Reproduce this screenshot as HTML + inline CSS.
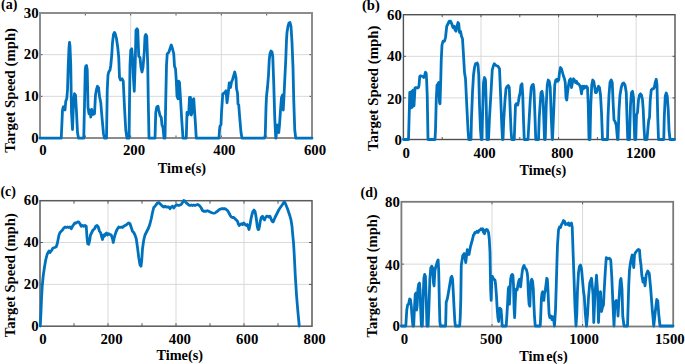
<!DOCTYPE html>
<html><head><meta charset="utf-8"><style>
html,body{margin:0;padding:0;background:#fff;}
body{width:685px;height:364px;overflow:hidden;}
svg{display:block;}
text{font-family:"Liberation Serif",serif;font-weight:bold;fill:#000;}
</style></head><body>
<svg width="685" height="364" viewBox="0 0 685 364">

<line x1="130.67" y1="13" x2="130.67" y2="138" stroke="#d9d9d9" stroke-width="1"/>
<line x1="221.33" y1="13" x2="221.33" y2="138" stroke="#d9d9d9" stroke-width="1"/>
<line x1="40" y1="96.33" x2="312" y2="96.33" stroke="#d9d9d9" stroke-width="1"/>
<line x1="40" y1="54.67" x2="312" y2="54.67" stroke="#d9d9d9" stroke-width="1"/>
<line x1="85.33" y1="138" x2="85.33" y2="135.5" stroke="#555" stroke-width="1"/>
<line x1="85.33" y1="13" x2="85.33" y2="15.5" stroke="#555" stroke-width="1"/>
<line x1="130.67" y1="138" x2="130.67" y2="135.5" stroke="#555" stroke-width="1"/>
<line x1="130.67" y1="13" x2="130.67" y2="15.5" stroke="#555" stroke-width="1"/>
<line x1="176" y1="138" x2="176" y2="135.5" stroke="#555" stroke-width="1"/>
<line x1="176" y1="13" x2="176" y2="15.5" stroke="#555" stroke-width="1"/>
<line x1="221.33" y1="138" x2="221.33" y2="135.5" stroke="#555" stroke-width="1"/>
<line x1="221.33" y1="13" x2="221.33" y2="15.5" stroke="#555" stroke-width="1"/>
<line x1="266.67" y1="138" x2="266.67" y2="135.5" stroke="#555" stroke-width="1"/>
<line x1="266.67" y1="13" x2="266.67" y2="15.5" stroke="#555" stroke-width="1"/>
<line x1="40" y1="96.33" x2="42.5" y2="96.33" stroke="#555" stroke-width="1"/>
<line x1="312" y1="96.33" x2="309.5" y2="96.33" stroke="#555" stroke-width="1"/>
<line x1="40" y1="54.67" x2="42.5" y2="54.67" stroke="#555" stroke-width="1"/>
<line x1="312" y1="54.67" x2="309.5" y2="54.67" stroke="#555" stroke-width="1"/>
<rect x="40" y="13" width="272" height="125" fill="none" stroke="#8c8c8c" stroke-width="2"/>
<polyline points="40,138.2 43,138.2 44,138.2 45,138.2 46,138.2 52,138.2 53,138.2 54,138.2 61.25,138.2 62.5,110 63.25,107 64.25,106.5 65,110 65.75,101.25 66.75,98.75 67.5,90 68.25,65 69,47.5 69.5,42.5 70,46.25 70.75,65 71.5,112.5 72.5,129.5 73.5,102.5 74.5,93.75 75.5,95 76.5,112.5 77.5,132.5 78.5,138.2 83.75,138.2 84.5,105 85.25,70 85.75,66.25 86.5,65.5 87.25,70 88,107.5 89,113.75 90,110 90.75,117 91.75,109.5 93,114.5 94.5,113.75 95.5,95 96.5,89.5 97.5,86.25 98.5,87.5 99.5,96.25 100.75,102.5 102,117.5 103.5,133.75 104.5,138.2 106.5,138.2 107.25,90 108,75 108.75,72 110,70 110.75,65.5 111.75,55 112.5,42.5 113.5,34.5 114.5,32.5 115.5,34.5 116.5,38.75 117.75,47.5 118.75,57.5 119.5,77.5 120.5,80 122,78.75 123.25,81.25 124.5,107.5 125.75,130 127,138.2 129,138.2 130,65 130.75,50 131.75,48.75 132.5,57.5 133.25,75 134.25,91.25 135.25,62.5 136,30 137,28.75 137.75,30 138.75,56.25 140,57.5 141,67.5 142,72 143,67.5 144.25,52.5 145,36.25 145.75,34.5 146.75,36.25 147.75,65 148.25,100 149,138.2 149.5,138.2 155,138.2 155.75,112.5 156.75,107 158,106.25 158.75,110 160,115.5 161.25,117.5 162,125 163,127.5 164,138.2 165,138.2 165.75,100 166.5,65 167.25,53.75 168.75,52.5 170,48.75 171.25,45 172.5,48.75 173.75,53.75 174.5,66.25 175.5,68.75 176.25,80 177,96.25 178,98.75 178.75,81.25 179.5,82.5 180.5,98.75 181.75,120 183,138.2 183.75,138.2 186.25,138.2 187,112.5 188,115 188.75,112.5 189.5,97.5 190.5,97.5 191.25,115 192,112.5 193,100 193.75,98.75 194.5,110 195.5,125 196.25,138.2 201.25,138.2 202.5,138.2 203.75,138.2 219,138.2 219.5,130.25 220,126 221,124.75 221.5,112.75 222.75,94 224.25,93 226,90.75 227,102.75 228.25,93 229.25,83 230.5,87.5 231.5,82 232.5,79.75 233.75,75.5 234.75,72 236,77.5 236.5,88.5 237.5,93 238,104 238.75,105 239.5,115 241,132.5 242,138.2 264.5,138.2 265.25,135 266,107.5 266.5,96.25 267.5,87.25 268.5,75 269.25,59.75 270,53.75 271,51 272,52 272.75,56.25 273.75,83.75 274.75,118 275.75,138.2 276,138.2 276.75,127.5 277.5,125 278.75,132.5 279.5,125 280.5,110 281.5,97.5 282.5,95 283.25,110 284,96.25 284.75,80 285.75,60 286.5,40 287,32.5 288,26.25 289,23 290,22.5 291,26.25 292,42.5 293,67.5 293.75,100 294.75,130 295.75,138.2 312,138.2" fill="none" stroke="#0072BD" stroke-width="2.8" stroke-linejoin="round" stroke-linecap="round"/>
<text x="1" y="9.3" text-anchor="start" font-size="14">(a)</text>
<text transform="translate(38.6,18) scale(1.06,1)" text-anchor="end" font-size="14">30</text>
<text transform="translate(38.6,59.2) scale(1.06,1)" text-anchor="end" font-size="14">20</text>
<text transform="translate(38.6,100.5) scale(1.06,1)" text-anchor="end" font-size="14">10</text>
<text transform="translate(38.6,142.5) scale(1.06,1)" text-anchor="end" font-size="14">0</text>
<text transform="translate(43,155.4) scale(1.06,1)" text-anchor="middle" font-size="14">0</text>
<text transform="translate(134,155.4) scale(1.06,1)" text-anchor="middle" font-size="14">200</text>
<text transform="translate(224.4,155.4) scale(1.06,1)" text-anchor="middle" font-size="14">400</text>
<text transform="translate(315,155.4) scale(1.06,1)" text-anchor="middle" font-size="14">600</text>
<text x="181.9" y="172.7" text-anchor="middle" font-size="14.3">Tim<tspan dx="1.8">e(s)</tspan></text>
<text transform="translate(14.5,90.4) rotate(-90)" text-anchor="middle" font-size="14.75">Target Speed (mph)</text>
<line x1="481" y1="14.7" x2="481" y2="139.5" stroke="#d9d9d9" stroke-width="1"/>
<line x1="558.6" y1="14.7" x2="558.6" y2="139.5" stroke="#d9d9d9" stroke-width="1"/>
<line x1="636.2" y1="14.7" x2="636.2" y2="139.5" stroke="#d9d9d9" stroke-width="1"/>
<line x1="403.4" y1="97.9" x2="675" y2="97.9" stroke="#d9d9d9" stroke-width="1"/>
<line x1="403.4" y1="56.3" x2="675" y2="56.3" stroke="#d9d9d9" stroke-width="1"/>
<line x1="442.2" y1="139.5" x2="442.2" y2="137" stroke="#555" stroke-width="1"/>
<line x1="442.2" y1="14.7" x2="442.2" y2="17.2" stroke="#555" stroke-width="1"/>
<line x1="481" y1="139.5" x2="481" y2="137" stroke="#555" stroke-width="1"/>
<line x1="481" y1="14.7" x2="481" y2="17.2" stroke="#555" stroke-width="1"/>
<line x1="519.8" y1="139.5" x2="519.8" y2="137" stroke="#555" stroke-width="1"/>
<line x1="519.8" y1="14.7" x2="519.8" y2="17.2" stroke="#555" stroke-width="1"/>
<line x1="558.6" y1="139.5" x2="558.6" y2="137" stroke="#555" stroke-width="1"/>
<line x1="558.6" y1="14.7" x2="558.6" y2="17.2" stroke="#555" stroke-width="1"/>
<line x1="597.4" y1="139.5" x2="597.4" y2="137" stroke="#555" stroke-width="1"/>
<line x1="597.4" y1="14.7" x2="597.4" y2="17.2" stroke="#555" stroke-width="1"/>
<line x1="636.2" y1="139.5" x2="636.2" y2="137" stroke="#555" stroke-width="1"/>
<line x1="636.2" y1="14.7" x2="636.2" y2="17.2" stroke="#555" stroke-width="1"/>
<line x1="403.4" y1="97.9" x2="405.9" y2="97.9" stroke="#555" stroke-width="1"/>
<line x1="675" y1="97.9" x2="672.5" y2="97.9" stroke="#555" stroke-width="1"/>
<line x1="403.4" y1="56.3" x2="405.9" y2="56.3" stroke="#555" stroke-width="1"/>
<line x1="675" y1="56.3" x2="672.5" y2="56.3" stroke="#555" stroke-width="1"/>
<rect x="403.4" y="14.7" width="271.6" height="124.8" fill="none" stroke="#505050" stroke-width="1.4"/>
<polyline points="403.5,139.5 408.5,139.5 409.25,112.5 409.75,92.5 410.75,108 411.5,91.75 412.25,107.25 413,90.25 414,105.75 415,88 416,87.5 417.5,88 418.5,87.5 419,85.5 419.75,76.5 420.5,75.75 422.75,76.5 423.75,77.5 424.5,75.75 425.5,72.25 426.25,73.5 426.75,83.25 427.25,96.5 427.75,125 428,139.5 435,139.5 435.5,130 436.25,100 437,85 438,83.75 438.75,82.5 439.5,102.5 440,103.75 440.75,80 441.25,60 442,45 443,41.25 444.5,41.25 445.5,37.5 446.75,26.25 448,23.75 449.25,21.25 450.5,21.25 451.75,23.75 453,27.5 454.25,26.25 455,30 456,31.25 457,26.25 458,22.5 458.75,23.75 459.5,32.5 460.5,31.25 461.5,36.25 462.5,38.75 463.5,55 464.5,72.5 465.5,78.75 466.75,105 468,130 468.75,139.5 471,139.5 471.5,117.5 472.5,92.5 473.5,75 474.5,67.5 475.5,63.75 477.25,63 478,65 478.75,75 479.5,105 480.5,130 481.25,139.5 482,139.5 482.5,117.5 483.5,82.5 484.5,77.5 485.5,80 486.25,105 487,139.5 488.5,139.5 489.5,117.5 491,92.5 492.25,70 493.25,66.25 494.25,63.75 496,65.5 498,66.25 499.5,68.75 500.5,92.5 501.75,125 502.5,139.5 503,139.5 503.75,120 505,100 506,88.75 507.25,86.25 508.25,85.5 509.25,87.5 510,105 511,130 511.75,139.5 514.25,139.5 514.75,125 515.5,105 516.25,103.75 517,103.75 517.75,105 518.5,101.25 519.25,96.25 520,93.75 521,85 522,83.75 522.75,95 523.5,120 524.25,139.5 528,139.5 529.25,117.5 530.25,100 531.25,87.5 532.25,85 533.25,84.5 534,90 535,117.5 535.75,139.5 538.5,139.5 539.25,117.5 540,106.25 541,92.5 542,91.25 543,97.5 543.75,117.5 544.5,139.5 545.25,139.5 546.25,105 547.25,85 548.25,80 549.25,81.25 550.25,87.5 551.25,117.5 552.25,139.5 552.5,139.5 553.75,110 554.75,85 555.75,80 556.75,79.25 557.75,81.25 558.75,80 559.5,72.5 560.5,67.5 561.5,68.75 562.5,72.5 563.5,76.25 564.5,78.75 565.25,82.5 566,97.5 566.75,100 567.5,92.5 568.5,85 569.5,80 570.5,78.75 571.5,87.5 572.5,82.5 573.5,78.75 574.5,80 575.5,82.5 576.5,81.25 577.5,83.75 578.5,83.75 579.5,85 580.5,87.5 581.5,93.75 582.5,86.25 583.5,88.75 584.5,86.25 585.5,87.5 586.5,86.25 587.5,87.5 588.25,105 589,139.5 590,139.5 590.75,105 591.75,85 592.75,80 593.75,81.25 594.75,87.5 595.5,92.5 596.5,92.5 597.5,88.75 598.5,86.25 599.5,87.5 600.5,95 601.5,112.5 602.5,139.5 607.5,139.5 608,117.5 609,95 610,82.5 611.25,80 612.25,82.5 613,100 614,120 615,121.25 616.25,125 617.5,139.5 618,139.5 619,110 620,95 621.25,87.5 622.5,83.75 623.75,83 625,85 626.25,92.5 627,117.5 627.75,139.5 629.5,139.5 630.5,105 631.5,92.5 632.5,91.25 633.5,97.5 634,117.5 634.75,139.5 635.75,139.5 636.5,115 637.5,112.5 638.5,100 639.5,95 640.5,93.75 641.5,95 642.5,100 643.25,110 644,127.5 644.75,139.5 645.75,139.5 647,139.5 648,127.5 648.75,120 649.5,117.5 650.25,100 651.25,90 652.5,88.75 653.5,88.75 654.25,87.5 655.25,82.5 656.25,79.25 657,85 657.75,117.5 658.5,139.5 663.75,139.5 664.25,117.5 665.25,96.25 666.25,93 667.25,96.25 668.25,110 669,130 670,139.5 674.5,139.5" fill="none" stroke="#0072BD" stroke-width="2.8" stroke-linejoin="round" stroke-linecap="round"/>
<text x="362" y="9.6" text-anchor="start" font-size="14.6">(b)</text>
<text transform="translate(401.9,19.9) scale(1.06,1)" text-anchor="end" font-size="14">60</text>
<text transform="translate(401.9,60.8) scale(1.06,1)" text-anchor="end" font-size="14">40</text>
<text transform="translate(401.9,103.6) scale(1.06,1)" text-anchor="end" font-size="14">20</text>
<text transform="translate(401.9,144.6) scale(1.06,1)" text-anchor="end" font-size="14">0</text>
<text transform="translate(406.1,157.5) scale(1.06,1)" text-anchor="middle" font-size="14">0</text>
<text transform="translate(484.6,157.5) scale(1.06,1)" text-anchor="middle" font-size="14">400</text>
<text transform="translate(562.3,157.5) scale(1.06,1)" text-anchor="middle" font-size="14">800</text>
<text transform="translate(640.8,157.5) scale(1.06,1)" text-anchor="middle" font-size="14">1200</text>
<text x="542.9" y="175.2" text-anchor="middle" font-size="14.3">Time(s)</text>
<text transform="translate(377.8,88.25) rotate(-90)" text-anchor="middle" font-size="14.85">Target Speed (mph)</text>
<line x1="108" y1="200.7" x2="108" y2="326.2" stroke="#d9d9d9" stroke-width="1"/>
<line x1="176" y1="200.7" x2="176" y2="326.2" stroke="#d9d9d9" stroke-width="1"/>
<line x1="244" y1="200.7" x2="244" y2="326.2" stroke="#d9d9d9" stroke-width="1"/>
<line x1="40" y1="284.37" x2="312" y2="284.37" stroke="#d9d9d9" stroke-width="1"/>
<line x1="40" y1="242.53" x2="312" y2="242.53" stroke="#d9d9d9" stroke-width="1"/>
<line x1="74" y1="326.2" x2="74" y2="323.2" stroke="#555" stroke-width="1"/>
<line x1="74" y1="200.7" x2="74" y2="203.7" stroke="#555" stroke-width="1"/>
<line x1="108" y1="326.2" x2="108" y2="323.2" stroke="#555" stroke-width="1"/>
<line x1="108" y1="200.7" x2="108" y2="203.7" stroke="#555" stroke-width="1"/>
<line x1="142" y1="326.2" x2="142" y2="323.2" stroke="#555" stroke-width="1"/>
<line x1="142" y1="200.7" x2="142" y2="203.7" stroke="#555" stroke-width="1"/>
<line x1="176" y1="326.2" x2="176" y2="323.2" stroke="#555" stroke-width="1"/>
<line x1="176" y1="200.7" x2="176" y2="203.7" stroke="#555" stroke-width="1"/>
<line x1="210" y1="326.2" x2="210" y2="323.2" stroke="#555" stroke-width="1"/>
<line x1="210" y1="200.7" x2="210" y2="203.7" stroke="#555" stroke-width="1"/>
<line x1="244" y1="326.2" x2="244" y2="323.2" stroke="#555" stroke-width="1"/>
<line x1="244" y1="200.7" x2="244" y2="203.7" stroke="#555" stroke-width="1"/>
<line x1="278" y1="326.2" x2="278" y2="323.2" stroke="#555" stroke-width="1"/>
<line x1="278" y1="200.7" x2="278" y2="203.7" stroke="#555" stroke-width="1"/>
<line x1="40" y1="284.37" x2="43" y2="284.37" stroke="#555" stroke-width="1"/>
<line x1="312" y1="284.37" x2="309" y2="284.37" stroke="#555" stroke-width="1"/>
<line x1="40" y1="242.53" x2="43" y2="242.53" stroke="#555" stroke-width="1"/>
<line x1="312" y1="242.53" x2="309" y2="242.53" stroke="#555" stroke-width="1"/>
<rect x="40" y="200.7" width="272" height="125.5" fill="none" stroke="#5a5a5a" stroke-width="1.5"/>
<polyline points="40.25,326 41,311.75 41.5,298.75 42.25,285.75 43.25,275.5 44.5,267 45.75,259.75 47.25,254 49,251 50,252.5 51.5,250.5 53,248 54.75,247.5 56.25,246.75 57.25,243.75 58,240 59,235 60,232.5 61.25,231.25 62.5,230 63.75,228 65,227 66.25,227.5 67.5,227 68.75,227.5 70,227 71.25,228.75 72.5,226.25 73.75,224.5 75,223 76.25,223 77.5,222 78.75,222 80,223.75 81.25,226.25 82.5,225.5 83.75,226.25 85,225.5 86.25,226.25 87,237.5 87.75,243.75 88.75,244.25 89.5,241.25 90.5,235 91.75,232.5 93,230 94.5,228.75 95.75,226.25 97,225.5 98.25,227 99.5,231.25 100.5,232.5 101.5,236.25 102.5,239.5 103.5,235 104.5,236.25 105.5,233.75 106.5,233 107.5,235 108.75,233.75 110,234.5 111.25,235 112.5,238.75 113.25,242.5 114,238.75 115,235 116.25,231.25 117.5,228.75 118.75,227 120,227.5 121.25,227 122.5,227.5 123.75,226.25 125,225.5 126.25,225 127.5,223.75 128.75,223 130,223.75 131.25,227.5 132.5,231.25 133.75,232.5 135,235 136.25,238.75 137.5,247.5 138.75,257.5 140,265 141,266.25 141.75,260 142.5,248.75 143.75,240 145,235 146.25,232.5 147.5,230 148.75,227.5 150,223.75 151.25,218.75 152.5,212.5 153.75,207.5 155,206.25 156.25,204.5 157.5,203 158.75,202.5 160,203.75 161.25,205 162.5,206.25 163.75,207 165,206.25 166.25,207 167.5,207 168.75,207 170,208.75 171.25,207 172.5,206.25 173.75,208 175,206.25 176.25,205 177.5,205 178.75,205.5 180,205 181.25,204.5 182.5,202.5 183.75,200.5 185,201.25 186.25,203 187.5,203.75 188.75,205 190,205.5 191.25,205 192.5,205.5 193.75,205 195,205.5 196.25,205 197.5,204.5 198.75,205 200,206.25 201.25,208 202.5,210.5 203.75,211.25 205,211.25 206.25,211.25 207.5,210.75 208.75,211.25 210,212 211.25,212.5 212.5,213 213.75,213.25 215,213 216.25,212 217.5,211.25 218.75,210 220,209.25 221.25,208.75 222.5,208.75 223.75,208.75 225,208.75 226.25,209.5 227.5,210.5 228.75,212.5 230,215 231.25,217 232.5,217.5 233.75,217.5 235,218.75 236.25,220 237.5,221.25 238.25,223.75 239.25,225.5 240.25,224.5 241.25,223.75 242.5,224.5 243.75,223 245,224.5 246.25,225.5 247.25,224.5 248.25,227 249,229.5 250,225 251,218.75 252,214.5 253,211.25 254,210 255,211.25 255.75,215 256.5,220 257.25,226.25 258,229.5 258.75,229.5 259.5,226.25 260.25,221.25 261.25,217.5 262.5,216.25 263.5,218.75 264.5,220 265.5,217.5 266.5,216.25 267.5,216.25 268.75,217 270,216.25 271,218.75 272,221.25 273,222 274,220 275,217.5 276.25,215 277.5,212.5 278.75,210 280,208 281.25,206.25 282.5,204.5 283.75,202.5 284.5,202 285.5,203.75 286.5,206.25 287.5,208.75 288.75,212.5 290,216.25 291,220 292,226.25 292.75,235 293.5,242.5 294.25,255 295.25,275 296.5,295 297.75,310 299.25,326" fill="none" stroke="#0072BD" stroke-width="2.8" stroke-linejoin="round" stroke-linecap="round"/>
<text x="0.4" y="196.2" text-anchor="start" font-size="14">(c)</text>
<text transform="translate(38.6,205.3) scale(1.06,1)" text-anchor="end" font-size="14">60</text>
<text transform="translate(38.6,246.9) scale(1.06,1)" text-anchor="end" font-size="14">40</text>
<text transform="translate(38.6,288.5) scale(1.06,1)" text-anchor="end" font-size="14">20</text>
<text transform="translate(38.6,330.8) scale(1.06,1)" text-anchor="end" font-size="14">0</text>
<text transform="translate(43,343.5) scale(1.06,1)" text-anchor="middle" font-size="14">0</text>
<text transform="translate(111.5,343.5) scale(1.06,1)" text-anchor="middle" font-size="14">200</text>
<text transform="translate(179.9,343.5) scale(1.06,1)" text-anchor="middle" font-size="14">400</text>
<text transform="translate(247.2,343.5) scale(1.06,1)" text-anchor="middle" font-size="14">600</text>
<text transform="translate(314.6,343.5) scale(1.06,1)" text-anchor="middle" font-size="14">800</text>
<text x="179.7" y="360.2" text-anchor="middle" font-size="14.3">Time(s)</text>
<text transform="translate(14.8,275.2) rotate(-90)" text-anchor="middle" font-size="14.65">Target Speed (mph)</text>
<line x1="492" y1="201.8" x2="492" y2="326.5" stroke="#d9d9d9" stroke-width="1"/>
<line x1="582.6" y1="201.8" x2="582.6" y2="326.5" stroke="#d9d9d9" stroke-width="1"/>
<line x1="401.4" y1="264.15" x2="673.2" y2="264.15" stroke="#d9d9d9" stroke-width="1"/>
<line x1="492" y1="326.5" x2="492" y2="324" stroke="#555" stroke-width="1"/>
<line x1="492" y1="201.8" x2="492" y2="204.3" stroke="#555" stroke-width="1"/>
<line x1="582.6" y1="326.5" x2="582.6" y2="324" stroke="#555" stroke-width="1"/>
<line x1="582.6" y1="201.8" x2="582.6" y2="204.3" stroke="#555" stroke-width="1"/>
<line x1="401.4" y1="264.15" x2="403.9" y2="264.15" stroke="#555" stroke-width="1"/>
<line x1="673.2" y1="264.15" x2="670.7" y2="264.15" stroke="#555" stroke-width="1"/>
<rect x="401.4" y="201.8" width="271.8" height="124.7" fill="none" stroke="#7a7a7a" stroke-width="1.8"/>
<polyline points="401.38,326 405.81,326 406.77,310 407.73,304.62 408.69,303.85 409.65,299.04 410.42,299.42 411.19,305.19 411.96,315.77 412.92,326 413.69,326 414.46,308.08 415.23,294.23 416,293.08 416.58,310 417.15,306.15 417.92,288.85 418.69,284.04 419.46,283.08 420.04,289.81 420.62,308.08 421.38,326 422.35,326 423.12,298.46 423.88,278.27 424.65,274.42 425.42,276.35 426.19,298.46 426.96,326 428.12,326 428.88,308.08 429.85,279.23 430.81,267.69 431.77,266.15 432.73,268.08 433.5,283.08 434.08,285.96 434.85,271.54 435.62,267.31 436.58,264.23 437.54,260.96 438.12,260 438.69,269.62 439.27,298.46 439.85,321.54 440.42,326 445.62,326 446.19,302.31 447.15,299.42 448.12,294.62 449.08,288.85 450.04,283.08 451,277.31 451.77,276.35 452.54,279.23 453.31,292.69 454.08,308.08 454.85,321.54 455.42,326 459.65,326 460.23,317.69 460.81,298.46 461.25,265.5 462.75,255.5 464.25,253.5 465.75,262.5 467.25,249.75 469,254.5 470.5,246.5 472.25,240.25 473.5,235 474,234.5 475,232.5 476,232.5 477,231.25 478,232.5 479,230.5 480,230 481,228.75 482,230 482.75,228.75 483.5,232.5 484.5,233.75 485.5,230 486.5,229.5 487.5,230 488.5,232.5 489.25,238.75 490,252.5 490.62,288.85 491.19,300.38 491.77,281.15 492.35,276.35 493.12,278.27 494.08,279.23 495.04,280.19 495.62,285 496.38,294.62 497.15,308.08 497.92,317.69 498.69,321.54 499.27,310.96 499.85,308.08 500.42,311.92 501,309.04 501.58,315.77 502.15,326 506.19,326 506.77,317.69 507.54,304.23 508.31,288.85 508.88,286.92 509.46,304.23 510.04,290.77 510.62,279.23 511.38,275.38 512.15,274.42 512.92,275.38 513.5,285 514.08,308.08 514.65,317.69 515.23,302.31 515.81,290.77 516.38,288.85 517.15,289.81 517.92,285 518.69,281.15 519.46,279.23 520.04,283.08 520.62,286.92 521.19,281.15 521.77,275.38 522.54,269.62 523.31,266.73 524.08,265.38 524.85,267.69 525.62,268.65 526.38,269.62 527.15,272.5 527.73,277.31 528.31,292.69 529.08,304.23 529.85,306.15 530.42,290.77 531,281.15 531.77,279.23 532.54,281.15 533.31,288.85 533.88,304.23 534.46,315.77 535.23,326 540.23,326 540.81,313.85 541.38,298.46 542.15,292.69 542.73,291.73 543.31,294.62 543.88,300.38 544.46,293.65 545.23,290.77 546,285 546.77,278.27 547.35,279.23 547.92,288.85 548.5,302.31 549.08,313.85 549.85,317.69 550.62,315.77 551.38,316.73 551.96,319.62 552.54,316.73 553.31,317.69 553.88,321.54 554.46,326 554.5,326 555.5,310 556.25,286 557,260 557.5,245 558.5,230 559.5,227 560.5,227.5 561.5,224.5 562.5,223 563.5,220.5 564.5,221.25 565.5,224.5 566.5,223.75 567.5,224.5 568.5,223 569.5,225.5 570.5,223.75 571.5,223 572.25,227.5 573,250 574,277.5 575,307.5 576,326 576.75,315 577.5,290 578.5,272.5 579.5,266.25 580.5,265 581.5,268.75 582.5,280 583.5,291.25 584.25,296.25 585.25,312.5 586.5,326 587.5,315 588.5,297.5 589.75,283 591.5,278.25 593,294 593.75,322.5 595,294 596.5,275.25 597.75,294 598.5,322.5 599.25,305 600.5,291.75 601.5,311.5 602.5,307.25 603.5,305 604,294 605.25,272 606.25,257.75 607.75,258.75 609.25,258.25 610.75,260 611.75,276.5 613,305 614,326 615,302.75 616.25,300.5 617.25,301.75 618,316 618.75,302.75 620.25,280.75 621,278.5 622,289.5 622.75,316 624,326 627.5,326 628,310 628.75,285 629.5,270 630.5,262.5 631.5,257.5 632.25,255 633,262.5 633.75,267.5 634.5,255 635.5,252.5 636.5,251.25 637.5,250 638.5,249.5 639.5,250 640.25,260 641,265 641.75,274.75 643,282 644,278.5 645,285.75 646.25,274.75 647.75,271 649.25,273.5 650.75,289.5 652.25,309.5 653.75,326 655.25,312 656.75,299.5 657.75,300.75 658.75,314.25 660,326 673,326" fill="none" stroke="#0072BD" stroke-width="2.8" stroke-linejoin="round" stroke-linecap="round"/>
<text x="360.6" y="197.1" text-anchor="start" font-size="14">(d)</text>
<text transform="translate(399.8,206.6) scale(1.06,1)" text-anchor="end" font-size="14">80</text>
<text transform="translate(399.8,269.6) scale(1.06,1)" text-anchor="end" font-size="14">40</text>
<text transform="translate(399.8,331.4) scale(1.06,1)" text-anchor="end" font-size="14">0</text>
<text transform="translate(404.5,344.3) scale(1.06,1)" text-anchor="middle" font-size="14">0</text>
<text transform="translate(491.2,344.3) scale(1.06,1)" text-anchor="middle" font-size="14">500</text>
<text transform="translate(584.1,344.3) scale(1.06,1)" text-anchor="middle" font-size="14">1000</text>
<text transform="translate(669.9,344.3) scale(1.06,1)" text-anchor="middle" font-size="14">1500</text>
<text x="543.5" y="361.1" text-anchor="middle" font-size="14.3">Tim<tspan dx="1.8">e(s)</tspan></text>
<text transform="translate(376.6,275.9) rotate(-90)" text-anchor="middle" font-size="14.55">Target Speed (mph)</text>
</svg>
</body></html>
